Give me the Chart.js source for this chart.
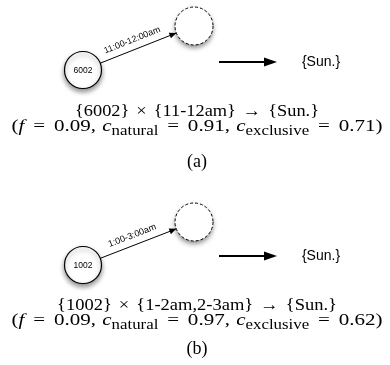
<!DOCTYPE html>
<html>
<head>
<meta charset="utf-8">
<script src="https://cdn.jsdelivr.net/npm/chart.js@4/dist/chart.umd.min.js"></script>
<style>
  html, body { margin: 0; background: #fff; }
  canvas { display: block; }
</style>
</head>
<body>
<canvas id="diagram" width="390" height="365"></canvas>
<script>
// two panels, (a) and (b)
const nodeLabels = ['6002', '1002']
const nodeX = [83, 83]
const nodeY = [70, 265]
const ghostX = [194, 194]
const ghostY = [26, 222]
const edgeLabels = ['11:00-12:00am', '1:00-3:00am']
const arrowFromX = [219, 219]
const arrowToX = [277, 277]
const arrowY = [62, 256]
const consequents = ['{Sun.}', '{Sun.}']
const consequentX = [321, 321]
const rules = ['{6002} × {11-12am} → {Sun.}', '{1002} × {1-2am,2-3am} → {Sun.}']
const ruleY = [110, 304]
const freq = ['0.09', '0.09']
const cNatural = ['0.91', '0.97']
const cExclusive = ['0.71', '0.62']
const statsY = [125, 319]
const panelLabels = ['(a)', '(b)']
const panelY = [162, 349]

const SERIF = '"Liberation Serif", "DejaVu Serif", serif'
const SANS = '"Liberation Sans", Arial, sans-serif'
const TEXT_SIZE = 17

const fontFor = (style, size) => {
  if (style === 'i') return `italic ${size}px ${SERIF}`
  if (style === 's') return `${size * 0.8}px ${SERIF}`
  return `${size}px ${SERIF}`
}

// draws runs of text centred on cx, gaps given in em, then stretched sideways to targetWidth
const drawRuns = (ctx, runs, cx, cy, targetWidth) => {
  const size = TEXT_SIZE
  let natural = 0
  runs.forEach(([t, s, w]) => {
    if (s === 'g') { natural += w * size; return }
    ctx.font = fontFor(s, size)
    natural += ctx.measureText(t).width
  })
  const sx = targetWidth / natural
  const base = cy + size * 0.33
  ctx.save()
  ctx.translate(cx - targetWidth / 2, 0)
  ctx.scale(sx, 1)
  ctx.textAlign = 'left'
  ctx.textBaseline = 'alphabetic'
  let xx = 0
  runs.forEach(([t, s, w]) => {
    if (s === 'g') { xx += w * size; return }
    ctx.font = fontFor(s, size)
    ctx.fillText(t, xx, s === 's' ? base + size * 0.25 : base)
    xx += ctx.measureText(t).width
  })
  ctx.restore()
}

const arrowHead = (ctx, tx, ty, angle, len, half) => {
  ctx.save()
  ctx.translate(tx, ty)
  ctx.rotate(angle)
  ctx.beginPath()
  ctx.moveTo(0, 0)
  ctx.lineTo(-len, -half)
  ctx.lineTo(-len, half)
  ctx.closePath()
  ctx.fill()
  ctx.restore()
}

const diagramPlugin = {
  id: 'diagram',
  beforeDatasetDraw(chart, args) {
    if (args.meta.order < 2) {
      chart.ctx.save()
      chart.ctx.shadowColor = 'rgba(0,0,0,0.45)'
      chart.ctx.shadowBlur = 5
      chart.ctx.shadowOffsetX = 0
      chart.ctx.shadowOffsetY = 3
    }
  },
  afterDatasetDraw(chart, args) {
    if (args.meta.order < 2) chart.ctx.restore()
  },
  afterDatasetsDraw(chart) {
    const { ctx, scales: { x, y } } = chart
    const nodeMeta = chart.getDatasetMeta(0)
    const ghostMeta = chart.getDatasetMeta(1)
    const cx = x.getPixelForValue(197)
    ctx.save()
    ctx.fillStyle = '#000'
    ctx.strokeStyle = '#000'

    nodeLabels.forEach((label, i) => {
      const n = nodeMeta.data[i]
      const g = ghostMeta.data[i]
      const rn = n.options.radius
      const rg = g.options.radius

      // dashed ring of the empty node
      ctx.setLineDash([3, 2])
      ctx.lineWidth = 1
      ctx.beginPath()
      ctx.arc(g.x, g.y, rg, 0, Math.PI * 2)
      ctx.stroke()
      ctx.setLineDash([])

      // node label
      ctx.font = `8.5px ${SANS}`
      ctx.textAlign = 'center'
      ctx.textBaseline = 'middle'
      ctx.fillText(label, n.x, n.y + 0.5)

      // edge arrowhead and label
      const ang = Math.atan2(g.y - n.y, g.x - n.x)
      const tipX = g.x - Math.cos(ang) * rg
      const tipY = g.y - Math.sin(ang) * rg
      arrowHead(ctx, tipX, tipY, ang, 7, 3)
      const sx = n.x + Math.cos(ang) * rn
      const sy = n.y + Math.sin(ang) * rn
      ctx.save()
      ctx.translate((sx + tipX) / 2 + Math.sin(ang) * 6 - 3, (sy + tipY) / 2 - Math.cos(ang) * 6)
      ctx.rotate(ang)
      ctx.font = `9px ${SANS}`
      ctx.textBaseline = 'alphabetic'
      ctx.fillText(edgeLabels[i], 0, 0)
      ctx.restore()

      // implication arrow and consequent
      arrowHead(ctx, x.getPixelForValue(arrowToX[i]), y.getPixelForValue(arrowY[i]), 0, 13, 4.5)
      ctx.font = `14px ${SANS}`
      ctx.textAlign = 'center'
      ctx.textBaseline = 'middle'
      ctx.fillText(consequents[i], x.getPixelForValue(consequentX[i]), y.getPixelForValue(arrowY[i]))

      // rule text: {item} × {hours} → {day}
      const ruleRuns = []
      rules[i].split(' ').forEach((tok, k) => {
        if (k) ruleRuns.push(['', 'g', 0.38])
        ruleRuns.push([tok, 'r'])
      })
      drawRuns(ctx, ruleRuns, cx, y.getPixelForValue(ruleY[i]), i === 0 ? 244 : 280)
      drawRuns(ctx, [
        ['(', 'r'], ['f', 'i'], ['', 'g', 0.42], ['=', 'r'], ['', 'g', 0.42], [`${freq[i]},`, 'r'], ['', 'g', 0.3],
        ['c', 'i'], ['natural', 's'], ['', 'g', 0.42], ['=', 'r'], ['', 'g', 0.42], [`${cNatural[i]},`, 'r'], ['', 'g', 0.3],
        ['c', 'i'], ['exclusive', 's'], ['', 'g', 0.42], ['=', 'r'], ['', 'g', 0.42], [`${cExclusive[i]})`, 'r']
      ], cx, y.getPixelForValue(statsY[i]), 371)
      ctx.font = `${TEXT_SIZE + 1}px ${SERIF}`
      ctx.textAlign = 'center'
      ctx.textBaseline = 'middle'
      ctx.fillText(panelLabels[i], cx, y.getPixelForValue(panelY[i]))
    })
    ctx.restore()
  }
}

const edgeSets = nodeLabels.map((_, i) => ({
  type: 'line',
  data: [{ x: nodeX[i], y: nodeY[i] }, { x: ghostX[i], y: ghostY[i] }],
  borderColor: '#000',
  borderWidth: 1,
  pointRadius: 0,
  order: 5
}))

const arrowSets = nodeLabels.map((_, i) => ({
  type: 'line',
  data: [{ x: arrowFromX[i], y: arrowY[i] }, { x: arrowToX[i] - 6, y: arrowY[i] }],
  borderColor: '#000',
  borderWidth: 2,
  pointRadius: 0,
  order: 5
}))

new Chart(document.getElementById('diagram'), {
  type: 'scatter',
  data: {
    datasets: [
      {
        data: nodeX.map((v, i) => ({ x: v, y: nodeY[i] })),
        pointRadius: 18.5,
        backgroundColor: '#fff',
        borderColor: '#000',
        borderWidth: 1.2,
        order: 0
      },
      {
        data: ghostX.map((v, i) => ({ x: v, y: ghostY[i] })),
        pointRadius: 19,
        backgroundColor: '#fff',
        borderWidth: 0,
        order: 1
      },
      ...edgeSets,
      ...arrowSets
    ]
  },
  options: {
    responsive: false,
    animation: false,
    events: [],
    layout: { padding: 0, autoPadding: false },
    plugins: { legend: { display: false }, tooltip: { enabled: false } },
    scales: {
      x: { type: 'linear', min: 0, max: 390, display: false },
      y: { type: 'linear', min: 0, max: 365, reverse: true, display: false }
    }
  },
  plugins: [diagramPlugin]
})
</script>
</body>
</html>
